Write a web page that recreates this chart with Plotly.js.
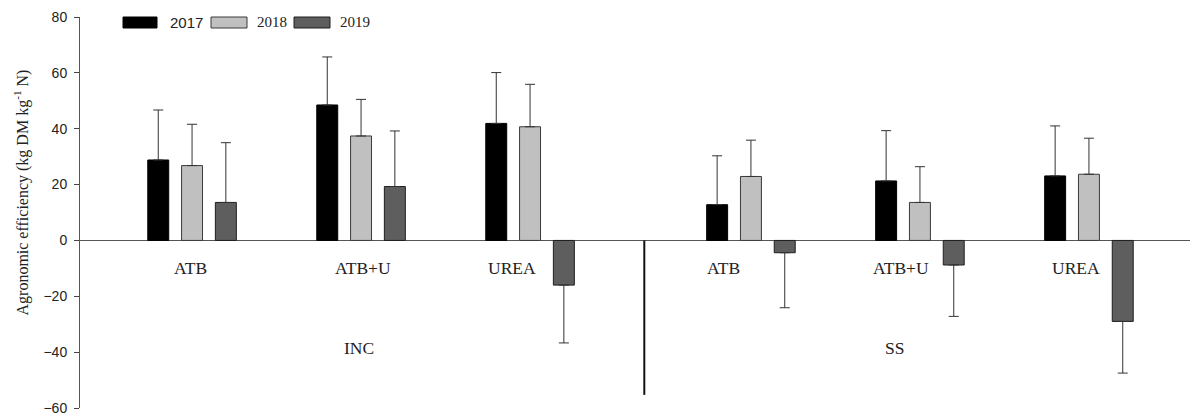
<!DOCTYPE html>
<html>
<head>
<meta charset="utf-8">
<script src="https://cdn.plot.ly/plotly-3.0.1.min.js"></script>
<style>
  html, body { margin: 0; padding: 0; background: #fff; }
  #chart { width: 1191px; height: 420px; }
</style>
</head>
<body>
<div id="chart"></div>
<script>
// Agronomic efficiency by N source, cropping system and year
const years = ['2017', '2018', '2019'];
const treatments = ['ATB', 'ATB+U', 'UREA', 'ATB', 'ATB+U', 'UREA'];
const systems = ['INC', 'SS'];

// mean values (kg DM kg-1 N), order: INC ATB, INC ATB+U, INC UREA, SS ATB, SS ATB+U, SS UREA
const ae2017 = [28.8, 48.5, 41.9, 12.8, 21.3, 23.1];
const ae2018 = [26.8, 37.4, 40.7, 22.9, 13.6, 23.7];
const ae2019 = [13.6, 19.3, -16.0, -4.4, -8.8, -29.0];

// standard errors
const se2017 = [17.9, 17.2, 18.2, 17.5, 18.0, 17.9];
const se2018 = [14.8, 13.1, 15.2, 13.0, 12.8, 12.9];
const se2019 = [21.4, 19.9, 20.7, 19.7, 18.4, 18.5];

// ---- layout helpers ----
const M = { l: 80, r: 1, t: 17, b: 12 };
const W = 1191, H = 420;
const plotW = W - M.l - M.r, plotH = H - M.t - M.b;
const px2paperX = px => (px - M.l) / plotW;
const px2paperY = py => (H - M.b - py) / plotH;

// group slots: the second system is pushed right to leave a gap
const systemGap = 0.307;
const xPos = treatments.map((_, i) => i + (i >= 3 ? systemGap : 0));

const styles = [
  { fill: '#000000', edge: '#000000' },
  { fill: '#c0c0c0', edge: '#3a3a3a' },
  { fill: '#5e5e5e', edge: '#1e1e1e' }
];
const series = [ae2017, ae2018, ae2019];
const errors = [se2017, se2018, se2019];

// error bars point away from zero only
const traces = series.map((vals, k) => ({
  type: 'bar',
  name: years[k],
  x: xPos,
  y: vals,
  marker: { color: styles[k].fill, line: { color: styles[k].edge, width: 1 } },
  error_y: {
    type: 'data',
    symmetric: false,
    array: vals.map((v, i) => (v >= 0 ? errors[k][i] : 0)),
    arrayminus: vals.map((v, i) => (v < 0 ? errors[k][i] : 0)),
    color: '#333333',
    thickness: 1,
    width: 5
  },
  showlegend: false,
  hoverinfo: 'skip'
}));

const serif = 'Liberation Serif, Times New Roman, serif';
const sans = 'Liberation Sans, Arial, sans-serif';

// treatment labels under the zero line (small nudges in px)
const labelNudge = [-2, 2, -18, -27, -19, -13];
const annotations = treatments.map((t, i) => ({
  x: xPos[i], y: -10, xref: 'x', yref: 'y',
  text: t, showarrow: false, xshift: labelNudge[i],
  xanchor: 'center', yanchor: 'middle',
  font: { family: serif, size: 17.5, color: '#222' }
}));

// system labels
const systemAnchor = [xPos[1], xPos[4]];
const systemNudge = [-2, -25];
systems.forEach((s, j) => annotations.push({
  x: systemAnchor[j], y: -38.5, xref: 'x', yref: 'y',
  text: s, showarrow: false, xshift: systemNudge[j],
  xanchor: 'center', yanchor: 'middle',
  font: { family: serif, size: 17.5, color: '#222' }
}));

// y-axis title
annotations.push({
  x: px2paperX(22), y: px2paperY(192.5), xref: 'paper', yref: 'paper',
  text: 'Agronomic efficiency (kg DM kg<sup>-1</sup> N)',
  textangle: -90, showarrow: false, xanchor: 'center', yanchor: 'middle',
  font: { family: serif, size: 16, color: '#222' }
});

// legend row drawn with shapes + text
const legendKeys = [
  { x0: 123, x1: 157, tx: 168, font: sans },
  { x0: 211, x1: 247, tx: 255, font: serif },
  { x0: 294, x1: 330, tx: 338, font: serif }
];
const shapes = [];
legendKeys.forEach((k, i) => {
  shapes.push({
    type: 'rect', xref: 'paper', yref: 'paper',
    x0: px2paperX(k.x0), x1: px2paperX(k.x1),
    y0: px2paperY(28), y1: px2paperY(17),
    fillcolor: styles[i].fill, line: { color: styles[i].edge, width: 1 }
  });
  annotations.push({
    x: px2paperX(k.tx), y: px2paperY(22.5), xref: 'paper', yref: 'paper',
    text: years[i], showarrow: false, xanchor: 'left', yanchor: 'middle',
    font: { family: k.font, size: 15, color: '#222' }
  });
});

// divider between the two cropping systems
shapes.push({
  type: 'line', xref: 'paper', yref: 'y',
  x0: px2paperX(644.3), x1: px2paperX(644.3), y0: 0, y1: -55.3,
  line: { color: '#111', width: 2 }
});

const layout = {
  width: W, height: H,
  margin: M,
  paper_bgcolor: '#fff', plot_bgcolor: '#fff',
  barmode: 'group', bargap: 0.4, bargroupgap: 0.38,
  showlegend: false,
  xaxis: {
    range: [-0.663, 5.905],
    showgrid: false, zeroline: false, showline: false,
    showticklabels: false, ticks: ''
  },
  yaxis: {
    range: [-60, 80],
    tickvals: [-60, -40, -20, 0, 20, 40, 60, 80],
    ticks: 'outside', ticklen: 5, tickwidth: 1, tickcolor: '#444',
    showline: true, linecolor: '#555', linewidth: 1,
    showgrid: false,
    zeroline: true, zerolinecolor: '#555', zerolinewidth: 1,
    ticklabelstandoff: 4,
    tickfont: { family: sans, size: 14, color: '#222' }
  },
  annotations: annotations,
  shapes: shapes,
  font: { family: sans, color: '#222' }
};

Plotly.newPlot('chart', traces, layout, { displayModeBar: false, staticPlot: true });
</script>
</body>
</html>
